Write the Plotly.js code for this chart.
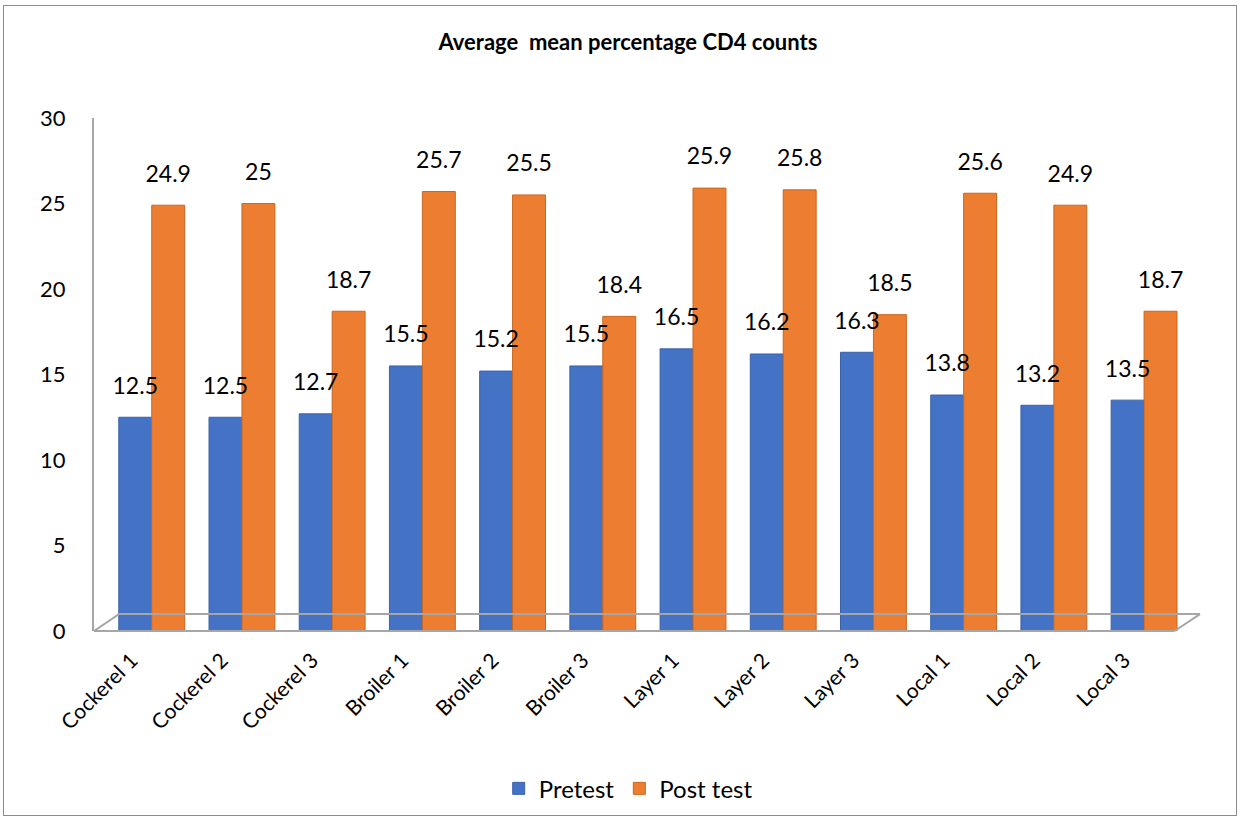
<!DOCTYPE html>
<html>
<head>
<meta charset="utf-8">
<script src="https://cdn.plot.ly/plotly-3.0.1.min.js"></script>
<style>
  html, body { margin: 0; padding: 0; background: #ffffff; }
  #wrap { position: relative; width: 1241px; height: 822px; }
  #chart { width: 1241px; height: 822px; }
  #frame { position: absolute; left: 3px; top: 5px; width: 1234px; height: 811px; border: 1px solid #8c8c8c; box-sizing: border-box; pointer-events: none; }
</style>
</head>
<body>
<div id="wrap">
  <div id="chart"></div>
  <div id="frame"></div>
</div>
<script>
const categories = ["Cockerel 1", "Cockerel 2", "Cockerel 3", "Broiler 1", "Broiler 2", "Broiler 3",
                    "Layer 1", "Layer 2", "Layer 3", "Local 1", "Local 2", "Local 3"];
const pretest = [12.5, 12.5, 12.7, 15.5, 15.2, 15.5, 16.5, 16.2, 16.3, 13.8, 13.2, 13.5];
const postTest = [24.9, 25, 18.7, 25.7, 25.5, 18.4, 25.9, 25.8, 18.5, 25.6, 24.9, 18.7];
const yTicks = [0, 5, 10, 15, 20, 25, 30];

const font = "Lato, 'Open Sans', 'Liberation Sans', sans-serif";
const labelFont = { family: font, size: 23, color: "#000000" };
const hiddenMarker = { size: 27, color: "rgba(0,0,0,0)" };

const traces = [
  {
    type: "bar", name: "Pretest", x: categories, y: pretest, offsetgroup: "a",
    marker: { color: "#4472C4", line: { color: "#3a62ab", width: 1 } }
  },
  {
    type: "bar", name: "Post test", x: categories, y: postTest, offsetgroup: "b",
    marker: { color: "#ED7D31", line: { color: "#c9661f", width: 1 } }
  },
  {
    type: "scatter", mode: "markers+text", x: categories, y: pretest, offsetgroup: "a",
    text: pretest.map(String), textposition: "top center", textfont: labelFont,
    marker: hiddenMarker, cliponaxis: false, showlegend: false, hoverinfo: "skip"
  },
  {
    type: "scatter", mode: "markers+text", x: categories, y: postTest, offsetgroup: "b",
    text: postTest.map(String), textposition: "top center", textfont: labelFont,
    marker: hiddenMarker, cliponaxis: false, showlegend: false, hoverinfo: "skip"
  }
];

const layout = {
  width: 1241, height: 822,
  paper_bgcolor: "#ffffff", plot_bgcolor: "#ffffff",
  margin: { l: 94, r: 41, t: 118, b: 190 },
  title: {
    text: "<b>Average  mean percentage CD4 counts</b>",
    x: 0.506, xanchor: "center", y: 0.948, yanchor: "middle",
    font: { family: font, size: 22, color: "#000000" }
  },
  barmode: "group", bargap: 0.27, bargroupgap: 0,
  scattermode: "group", scattergap: 0.27,
  xaxis: {
    type: "category", range: [-0.64, 11.62], tickangle: -45,
    tickfont: { family: font, size: 21, color: "#000000" },
    ticklabelshift: -20, ticklabelstandoff: 12,
    showline: false, showgrid: false, zeroline: false, ticks: "", ticklen: 0, automargin: false
  },
  yaxis: {
    range: [0, 30], tickvals: yTicks, ticktext: yTicks.map(String),
    tickfont: { family: font, size: 22, color: "#000000" },
    showline: true, linecolor: "#a6a6a6", linewidth: 2,
    showgrid: false, zeroline: false, ticks: "", ticklabelstandoff: 22, automargin: false
  },
  legend: {
    orientation: "h", x: 0.483, xanchor: "center", y: -0.305, yanchor: "middle",
    font: { family: font, size: 24, color: "#000000" },
    itemwidth: 30, traceorder: "normal"
  },
  shapes: [
    { type: "line", xref: "paper", yref: "paper", x0: 0, y0: 0, x1: 0.0226, y1: 0.033,
      line: { color: "#a6a6a6", width: 2 } },
    { type: "line", xref: "paper", yref: "paper", x0: 0.0226, y0: 0.033, x1: 1.0, y1: 0.033,
      line: { color: "#a6a6a6", width: 2 } },
    { type: "line", xref: "paper", yref: "paper", x0: 0.977, y0: 0, x1: 1.0, y1: 0.033,
      line: { color: "#a6a6a6", width: 2 } },
    { type: "line", xref: "paper", yref: "paper", x0: 0, y0: 0, x1: 0.977, y1: 0,
      line: { color: "#a6a6a6", width: 2 } }
  ],
  showlegend: true
};

Plotly.newPlot("chart", traces, layout, { displayModeBar: false, staticPlot: true });
</script>
</body>
</html>
